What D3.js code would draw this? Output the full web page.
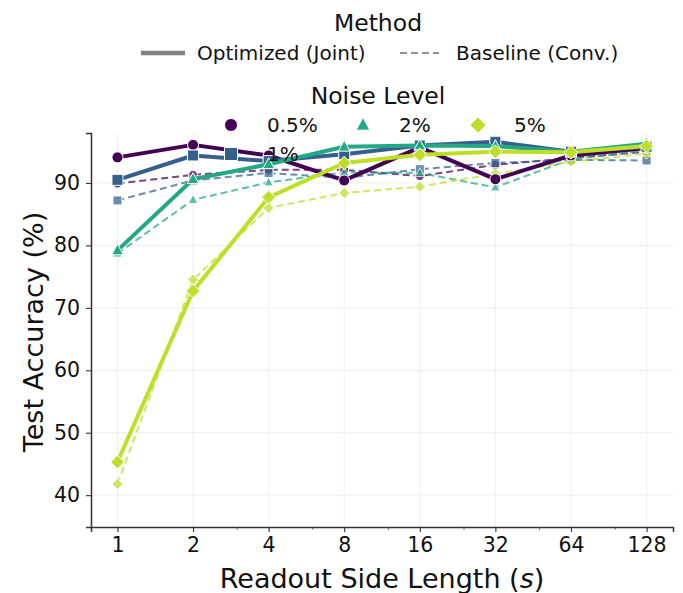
<!DOCTYPE html>
<html>
<head>
<meta charset="utf-8">
<script src="https://cdn.jsdelivr.net/npm/d3@7"></script>
<style>
  html, body { margin: 0; padding: 0; background: #fff; }
  svg { display: block; font-family: "DejaVu Sans", sans-serif; }
</style>
</head>
<body>
<svg id="chart" width="683" height="593"></svg>
<script>
// Readout side lengths (x) and test accuracy (%) per noise level and method
const sideLengths = [1, 2, 4, 8, 16, 32, 64, 128];
const noiseLevels = ["0.5%", "1%", "2%", "5%"];
const noiseColors = ["#440154", "#355f8d", "#22a884", "#bddf26"];
const noiseMarkers = ["circle", "square", "triangle", "diamond"];

const optimized05 = [94.1, 96.1, 94.4, 90.4, 95.7, 90.6, 94.4, 95.6];
const optimized1  = [90.5, 94.4, 93.5, 94.6, 96.0, 96.6, 95.0, 95.8];
const optimized2  = [79.2, 90.6, 93.0, 95.8, 96.0, 95.9, 95.0, 96.3];
const optimized5  = [45.3, 72.7, 87.7, 93.2, 94.5, 95.0, 94.9, 95.9];

const baseline05 = [89.9, 91.3, 92.1, 92.1, 91.1, 92.9, 94.0, 95.0];
const baseline1  = [87.2, 90.4, 91.6, 90.8, 92.2, 93.2, 93.7, 93.6];
const baseline2  = [78.7, 87.3, 90.1, 91.7, 91.6, 89.3, 93.8, 95.2];
const baseline5  = [41.8, 74.5, 86.0, 88.4, 89.4, 91.5, 93.4, 94.7];

const yTicks = [40, 50, 60, 70, 80, 90];
const xMinorTicks = [3, 6, 12, 24, 48, 96];

const methods = [
  { name: "Optimized (Joint)", series: [optimized05, optimized1, optimized2, optimized5], dashed: false },
  { name: "Baseline (Conv.)",  series: [baseline05, baseline1, baseline2, baseline5],  dashed: true }
];

const svg = d3.select("#chart");
const margin = { left: 91, right: 10, top: 133, bottom: 66 };
const W = 683, H = 593;

const x = d3.scaleLog().base(2)
  .domain([Math.pow(2, -0.35), Math.pow(2, 7.35)])
  .range([margin.left, W - margin.right]);
const y = d3.scaleLinear()
  .domain([34.9, 98.0])
  .range([H - margin.bottom, margin.top]);

// grid
const grid = svg.append("g");
grid.selectAll(".gx").data(sideLengths).join("line")
  .attr("x1", d => x(d)).attr("x2", d => x(d))
  .attr("y1", y.range()[0]).attr("y2", y.range()[1])
  .attr("stroke", "#ededed").attr("stroke-width", 0.9);
grid.selectAll(".gy").data(yTicks).join("line")
  .attr("x1", x.range()[0]).attr("x2", x.range()[1])
  .attr("y1", d => y(d)).attr("y2", d => y(d))
  .attr("stroke", "#ededed").attr("stroke-width", 0.9);

// axes
const xAxis = d3.axisBottom(x).tickValues(sideLengths).tickFormat(d3.format("d"))
  .tickSize(5).tickPadding(5);
const gx = svg.append("g").attr("transform", `translate(0,${y.range()[0]})`).call(xAxis);
gx.select(".domain").attr("stroke", "#333").attr("stroke-width", 1.5);
gx.selectAll(".tick line").attr("stroke", "#333").attr("stroke-width", 1.1);
gx.selectAll(".tick text").attr("font-size", 20.5).attr("fill", "#111")
  .attr("font-family", "DejaVu Sans");
gx.selectAll(".minor").data(xMinorTicks).join("line")
  .attr("x1", d => x(d)).attr("x2", d => x(d))
  .attr("y1", 0).attr("y2", 3)
  .attr("stroke", "#555").attr("stroke-width", 0.8);

const yAxis = d3.axisLeft(y).tickValues(yTicks).tickSize(5).tickPadding(6);
const gy = svg.append("g").attr("transform", `translate(${x.range()[0]},0)`).call(yAxis);
gy.select(".domain").attr("stroke", "#333").attr("stroke-width", 1.5);
gy.selectAll(".tick line").attr("stroke", "#333").attr("stroke-width", 1.1);
gy.selectAll(".tick text").attr("font-size", 20.5).attr("fill", "#111")
  .attr("font-family", "DejaVu Sans");

// axis titles
svg.append("text")
  .attr("transform", "translate(43,332) rotate(-90)")
  .attr("text-anchor", "middle").attr("font-size", 27).attr("fill", "#111")
  .text("Test Accuracy (%)");
const xl = svg.append("text")
  .attr("x", 382).attr("y", 588)
  .attr("text-anchor", "middle").attr("font-size", 27).attr("fill", "#111");
xl.append("tspan").text("Readout Side Length (");
xl.append("tspan").attr("font-style", "italic").text("s");
xl.append("tspan").text(")");

// marker path generator
function markerPath(kind, s) {
  if (kind === "circle") return d3.symbol(d3.symbolCircle, Math.PI * s * s / 4)();
  if (kind === "square") return d3.symbol(d3.symbolSquare, s * s)();
  if (kind === "triangle") {
    const h = s * 0.95, w = s * 1.05;
    return `M0,${-h * 0.62}L${w / 2},${h * 0.42}L${-w / 2},${h * 0.42}Z`;
  }
  const r = s * 0.62;
  return `M0,${-r}L${r},0L0,${r}L${-r},0Z`;
}

const line = d3.line().x((d, i) => x(sideLengths[i])).y(d => y(d));

const plot = svg.append("g");
// baselines first, optimized drawn on top
[methods[1], methods[0]].forEach(m => {
  m.series.forEach((vals, k) => {
    const g = plot.append("g").attr("opacity", m.dashed ? 0.72 : 1);
    g.append("path").datum(vals)
      .attr("d", line)
      .attr("fill", "none")
      .attr("stroke", noiseColors[k])
      .attr("stroke-width", m.dashed ? 2 : 4)
      .attr("stroke-dasharray", m.dashed ? "7,4" : null)
      .attr("stroke-linejoin", "round");
    g.selectAll("path.mk").data(vals).join("path")
      .attr("class", "mk")
      .attr("transform", (d, i) => `translate(${x(sideLengths[i])},${y(d)})`)
      .attr("d", markerPath(noiseMarkers[k], m.dashed ? 9 : 11))
      .attr("fill", noiseColors[k])
      .attr("stroke", "#fff").attr("stroke-width", 1);
  });
});

// legend: method
const leg = svg.append("g").attr("fill", "#111");
leg.append("text").attr("x", 378).attr("y", 30.5).attr("text-anchor", "middle")
  .attr("font-size", 23.5).text("Method");
leg.append("line").attr("x1", 141).attr("x2", 185).attr("y1", 53).attr("y2", 53)
  .attr("stroke", "#808080").attr("stroke-width", 4.5);
leg.append("text").attr("x", 197).attr("y", 60).attr("font-size", 20)
  .text(methods[0].name);
leg.append("line").attr("x1", 400).attr("x2", 439).attr("y1", 53).attr("y2", 53)
  .attr("stroke", "#808080").attr("stroke-width", 2).attr("stroke-dasharray", "7,4")
  .attr("opacity", 0.85);
leg.append("text").attr("x", 456).attr("y", 60).attr("font-size", 20)
  .text(methods[1].name);

// legend: noise level (3 columns, filled column-wise)
leg.append("text").attr("x", 378).attr("y", 103.5).attr("text-anchor", "middle")
  .attr("font-size", 23.5).text("Noise Level");
const colX = [231, 363, 478];
const rowY = [125, 154];
noiseLevels.forEach((lab, k) => {
  const col = k === 0 ? 0 : k === 1 ? 0 : k - 1;
  const row = k === 1 ? 1 : 0;
  const cx = colX[col], cy = rowY[row];
  leg.append("path")
    .attr("transform", `translate(${cx},${cy})`)
    .attr("d", markerPath(noiseMarkers[k], 13))
    .attr("fill", noiseColors[k]).attr("stroke", "#fff").attr("stroke-width", 1);
  leg.append("text").attr("x", cx + 36).attr("y", cy + 7)
    .attr("font-size", 20).text(lab);
});
</script>
</body>
</html>
